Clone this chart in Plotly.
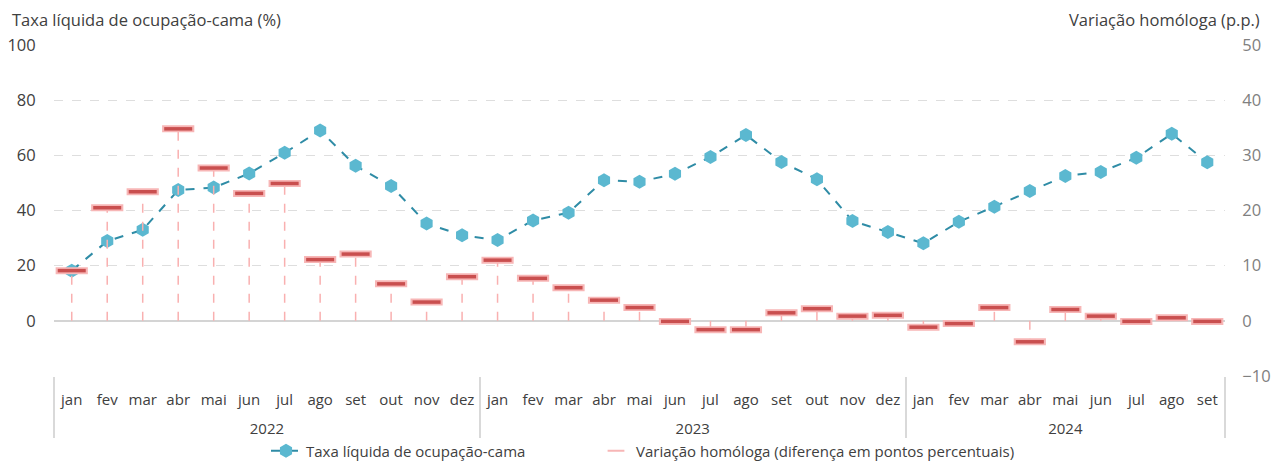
import plotly.graph_objects as go

months_2022 = ["jan", "fev", "mar", "abr", "mai", "jun", "jul", "ago", "set", "out", "nov", "dez"]
months_2023 = ["jan", "fev", "mar", "abr", "mai", "jun", "jul", "ago", "set", "out", "nov", "dez"]
months_2024 = ["jan", "fev", "mar", "abr", "mai", "jun", "jul", "ago", "set"]
years = ["2022", "2023", "2024"]

taxa_2022 = [18.2, 28.9, 33.0, 47.4, 48.3, 53.4, 60.9, 69.0, 56.2, 48.9, 35.3, 31.0]
taxa_2023 = [29.3, 36.4, 39.2, 51.0, 50.4, 53.3, 59.4, 67.4, 57.6, 51.3, 36.2, 32.2]
taxa_2024 = [28.1, 35.9, 41.4, 47.1, 52.5, 54.0, 59.1, 67.8, 57.5]

var_2022 = [9.1, 20.5, 23.4, 34.8, 27.7, 23.1, 24.9, 11.1, 12.1, 6.7, 3.4, 8.0]
var_2023 = [11.0, 7.7, 6.0, 3.75, 2.4, -0.1, -1.6, -1.6, 1.45, 2.2, 0.85, 1.0]
var_2024 = [-1.15, -0.5, 2.4, -3.8, 2.05, 0.85, -0.1, 0.55, -0.1]

left_ticks = [-20, 0, 20, 40, 60, 80, 100]
left_ticktext = ["", "0", "20", "40", "60", "80", "100"]
right_ticks = [-10, 0, 10, 20, 30, 40, 50]

name_line = "Taxa líquida de ocupação-cama"
name_var = "Variação homóloga (diferença em pontos percentuais)"
title_left = "Taxa líquida de ocupação-cama (%)"
title_right = "Variação homóloga (p.p.)"

month_lists = [months_2022, months_2023, months_2024]
# leading blank line gives the year row extra room below the month row
x_year = ["<br>" + y for y, ml in zip(years, month_lists) for _ in ml]
x_month = [m for ml in month_lists for m in ml]
taxa = taxa_2022 + taxa_2023 + taxa_2024
var = var_2022 + var_2023 + var_2024
n = len(x_month)

FONT = "Open Sans"
PINK = "#f7b6b6"
RED = "#c94f4f"
fig = go.Figure()

# drop lines for variation
for yr, mo, v in zip(x_year, x_month, var):
    fig.add_trace(go.Scatter(
        x=[[yr, yr], [mo, mo]], y=[0, v], yaxis="y2", mode="lines",
        line=dict(color="#f9b0b0", width=1.5, dash="dash"),
        showlegend=False, hoverinfo="skip"))

fig.add_trace(go.Scatter(
    x=[x_year, x_month], y=taxa, mode="lines+markers", name=name_line, legend="legend",
    line=dict(color="#2f8ca6", width=2, dash="dash"),
    marker=dict(symbol="hexagon", size=14, color="#5bb8d0", line=dict(width=0))))

fig.add_trace(go.Scatter(
    x=[x_year, x_month], y=var, yaxis="y2", mode="markers", name=name_var, legend="legend2",
    marker=dict(symbol="line-ew", size=23, color=PINK, line=dict(color=PINK, width=7))))
fig.add_trace(go.Scatter(
    x=[x_year, x_month], y=var, yaxis="y2", mode="markers", showlegend=False,
    marker=dict(symbol="line-ew", size=20, color=RED, line=dict(color=RED, width=3.5))))

fig.update_layout(
    width=1272, height=461,
    margin=dict(l=54, r=47, t=45, b=85),
    paper_bgcolor="white", plot_bgcolor="white",
    font=dict(family=FONT, size=15, color="#404040"),
    showlegend=True,
    legend=dict(orientation="h", xref="container", yref="container",
                x=266 / 1272, xanchor="left", y=10 / 461, yanchor="middle",
                font=dict(size=15, color="#404040"), bgcolor="rgba(0,0,0,0)"),
    legend2=dict(orientation="h", xref="container", yref="container",
                 x=596 / 1272, xanchor="left", y=10 / 461, yanchor="middle",
                 itemsizing="constant",
                 font=dict(size=15, color="#404040"), bgcolor="rgba(0,0,0,0)"),
    xaxis=dict(type="multicategory", range=[-0.5, n - 0.5], autorange=False,
               showgrid=False, showline=False, ticks="", ticklabelstandoff=13,
               tickangle=0, automargin=False,
               showdividers=True, dividercolor="#d9d9d9", dividerwidth=1.5,
               tickfont=dict(size=15, color="#404040")),
    yaxis=dict(range=[-20, 100], tickvals=left_ticks, ticktext=left_ticktext,
               automargin=False,
               showgrid=True, gridcolor="#dedede", griddash="dash", gridwidth=1,
               zeroline=True, zerolinecolor="#d4d4d4", zerolinewidth=2,
               showline=False, ticks="outside", ticklen=14, tickcolor="rgba(0,0,0,0)",
               tickfont=dict(size=16.5, color="#404040")),
    yaxis2=dict(range=[-10, 50], tickvals=right_ticks, overlaying="y", side="right",
                automargin=False,
                showgrid=False, zeroline=False, showline=False,
                ticks="outside", ticklen=13, tickcolor="rgba(0,0,0,0)",
                tickfont=dict(size=16.5, color="#808080")),
    annotations=[
        dict(text=title_left, xref="paper", yref="paper", x=-44/1171, y=1.0, yshift=26,
             xanchor="left", yanchor="middle", showarrow=False,
             font=dict(size=16.5, color="#404040")),
        dict(text=title_right, xref="paper", yref="paper", x=1 + 37/1171, y=1.0, yshift=26,
             xanchor="right", yanchor="middle", showarrow=False,
             font=dict(size=16.5, color="#404040")),
    ],
)

fig.write_html("out.html", config={"displayModeBar": False},
               post_script="document.body.style.margin='0';")
